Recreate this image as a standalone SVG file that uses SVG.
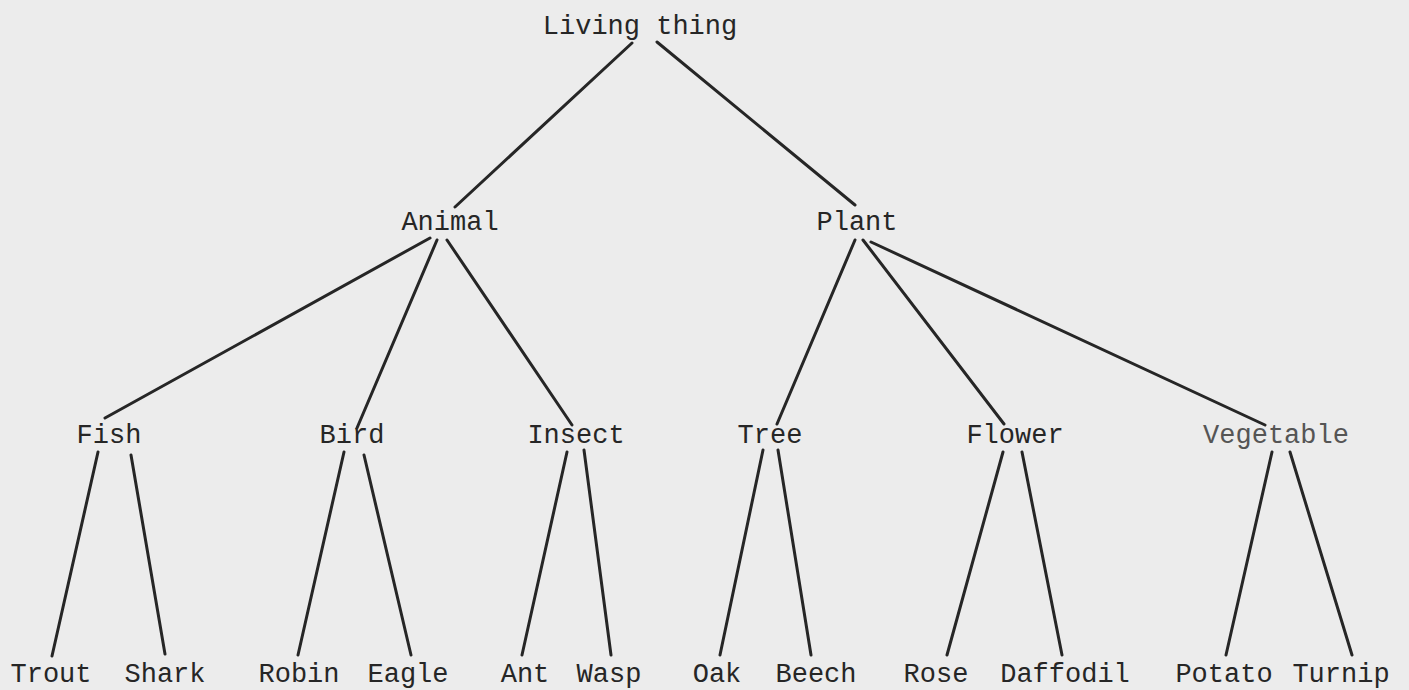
<svg xmlns="http://www.w3.org/2000/svg" width="1409" height="690" viewBox="0 0 1409 690">
<style>
text{font-family:"Liberation Mono","DejaVu Sans Mono",monospace;font-size:27px;fill:#262626;text-anchor:middle}
.c line{stroke:#262626;stroke-width:3;stroke-linecap:round}
.light{fill:#555}
</style>
<rect width="1409" height="690" fill="#ececec"/>
<g class="c" id="connectors">
<line x1="632" y1="43" x2="455" y2="207"/>
<line x1="657" y1="42" x2="855" y2="205"/>
<line x1="430" y1="238" x2="105" y2="418"/>
<line x1="437" y1="240" x2="357" y2="428"/>
<line x1="447" y1="240" x2="572" y2="425"/>
<line x1="855" y1="240" x2="777" y2="424"/>
<line x1="863" y1="240" x2="1004" y2="424"/>
<line x1="871" y1="242" x2="1265" y2="425"/>
<line x1="98" y1="452" x2="52" y2="656"/>
<line x1="131" y1="455" x2="165" y2="654"/>
<line x1="344" y1="452" x2="298" y2="655"/>
<line x1="364" y1="455" x2="411" y2="655"/>
<line x1="567" y1="452" x2="522" y2="655"/>
<line x1="584" y1="450" x2="611" y2="655"/>
<line x1="763" y1="450" x2="720" y2="655"/>
<line x1="778" y1="450" x2="811" y2="655"/>
<line x1="1003" y1="452" x2="947" y2="655"/>
<line x1="1022" y1="452" x2="1062" y2="655"/>
<line x1="1272" y1="452" x2="1226" y2="655"/>
<line x1="1290" y1="452" x2="1352" y2="655"/>
</g>
<g id="n-living"><text x="640" y="34">Living thing</text></g>
<g id="n-animal"><text x="450" y="230">Animal</text></g>
<g id="n-plant"><text x="857" y="230">Plant</text></g>
<g id="n-fish"><text x="109" y="443">Fish</text></g>
<g id="n-bird"><text x="352" y="443">Bird</text></g>
<g id="n-insect"><text x="576" y="443">Insect</text></g>
<g id="n-tree"><text x="770" y="443">Tree</text></g>
<g id="n-flower"><text x="1015" y="443">Flower</text></g>
<g id="n-vegetable"><text class="light" x="1276" y="443">Vegetable</text></g>
<g id="n-trout"><text x="51" y="682">Trout</text></g>
<g id="n-shark"><text x="165" y="682">Shark</text></g>
<g id="n-robin"><text x="299" y="682">Robin</text></g>
<g id="n-eagle"><text x="408" y="682">Eagle</text></g>
<g id="n-ant"><text x="525" y="682">Ant</text></g>
<g id="n-wasp"><text x="609" y="682">Wasp</text></g>
<g id="n-oak"><text x="717" y="682">Oak</text></g>
<g id="n-beech"><text x="816" y="682">Beech</text></g>
<g id="n-rose"><text x="936" y="682">Rose</text></g>
<g id="n-daffodil"><text x="1065" y="682">Daffodil</text></g>
<g id="n-potato"><text x="1224" y="682">Potato</text></g>
<g id="n-turnip"><text x="1341" y="682">Turnip</text></g>
</svg>
